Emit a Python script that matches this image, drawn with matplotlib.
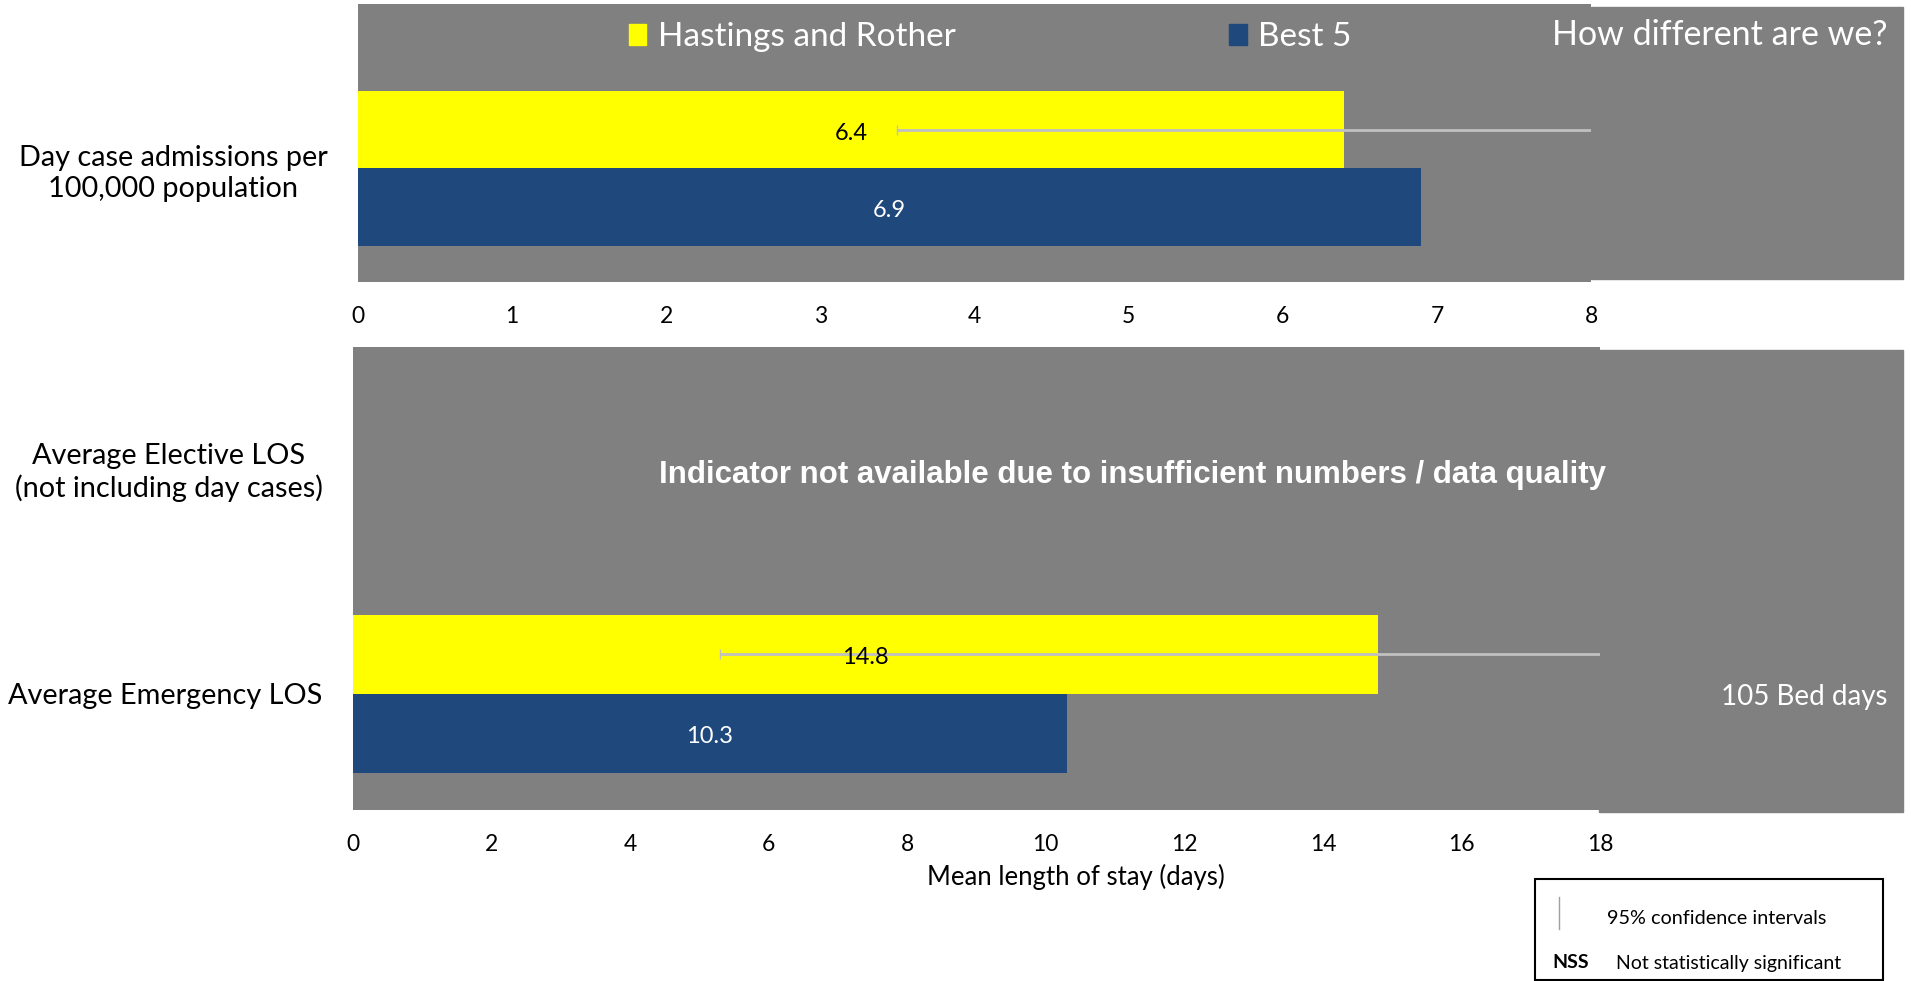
import numpy as np
import matplotlib
matplotlib.use("Agg")
import matplotlib.pyplot as plt
from matplotlib.patches import Rectangle, Patch

plt.rcParams['font.family'] = ['Lato', 'DejaVu Sans']

# data
categories = ["Day case admissions per\n100,000 population",
              "Average Elective LOS\n(not including day cases)",
              "Average Emergency LOS"]
hastings = [6.4, np.nan, 14.8]
best5 = [6.9, np.nan, 10.3]
ci_low = [3.5, np.nan, 5.3]
ci_high = [8.6, np.nan, 19.0]
bed_days = [None, None, "105 Bed days"]
series_names = ["Hastings and Rother", "Best 5"]

GRAY = "#808080"
YELLOW = "#FFFF00"
BLUE = "#1F497D"
W, H = 1911, 981

fig = plt.figure(figsize=(W / 100, H / 100), dpi=100)


def px_axes(x0, y0, x1, y1):
    return fig.add_axes([x0 / W, 1 - y1 / H, (x1 - x0) / W, (y1 - y0) / H])


# gray panels on the right ("How different are we?")
fig.add_artist(Rectangle((1591 / W, 1 - 279 / H), (1903 - 1591) / W, (279 - 7) / H,
                         transform=fig.transFigure, color=GRAY, zorder=0))
fig.add_artist(Rectangle((1599 / W, 1 - 812 / H), (1903 - 1599) / W, (812 - 350) / H,
                         transform=fig.transFigure, color=GRAY, zorder=0))

ax_top = px_axes(358, 4, 1591, 282)
ax_bot = px_axes(353, 347, 1600, 810)

panels = [
    (ax_top, [0], [0.5], (-0.97, 2.63), 8, 1),
    (ax_bot, [1, 2], [3.37, 0.5], (-0.97, 4.89), 18, 2),
]

for ax, idx, pos, ylim, xmax, step in panels:
    ax.set_facecolor(GRAY)
    for s in ax.spines.values():
        s.set_visible(False)
    ax.set_xlim(0, xmax)
    ax.set_ylim(*ylim)
    ax.set_xticks(np.arange(0, xmax + 1, step))
    ax.tick_params(axis='x', length=0, pad=17.5, labelsize=16.5)
    ax.set_yticks(pos)
    ax.set_yticklabels([categories[i] for i in idx], fontsize=20.8,
                       multialignment='center', linespacing=1.25)
    ax.tick_params(axis='y', length=0, pad=22)
    for i, p in zip(idx, pos):
        if np.isnan(hastings[i]):
            ax.annotate("Indicator not available due to insufficient numbers / data quality",
                        (xmax * 0.625, p), xytext=(0, -6), textcoords='offset points',
                        ha='center', va='center', color='white', fontsize=22.5,
                        fontweight='bold', family='Liberation Sans')
            continue
        ax.barh(p + 0.5, hastings[i], height=1, color=YELLOW, zorder=2)
        ax.barh(p - 0.5, best5[i], height=1, color=BLUE, zorder=2)
        ax.errorbar(hastings[i], p + 0.5,
                    xerr=[[hastings[i] - ci_low[i]], [ci_high[i] - hastings[i]]],
                    fmt='none', ecolor='#C0C0C0', elinewidth=2, capsize=3.5,
                    zorder=3)
        ax.annotate(f"{hastings[i]:.1f}", (hastings[i] / 2, p + 0.5), xytext=(0, -2.5),
                    textcoords='offset points', ha='center', va='center',
                    fontsize=17, color='black', zorder=4)
        ax.annotate(f"{best5[i]:.1f}", (best5[i] / 2, p - 0.5), xytext=(0, -2.5),
                    textcoords='offset points', ha='center', va='center',
                    fontsize=17, color='white', zorder=4)
        if bed_days[i]:
            fig.text(1804 / W, 1 - 697 / H, bed_days[i], ha='center', va='center',
                     color='white', fontsize=20)

ax_bot.set_xlabel("Mean length of stay (days)", fontsize=18.5)
ax_bot.xaxis.set_label_coords(0.58, -0.145)
ax_bot.xaxis.label.set_va('center')

# series legend
handles = [Patch(color=YELLOW), Patch(color=BLUE)]
leg = fig.legend(handles, series_names, loc='center left',
                 bbox_to_anchor=(629 / W, 1 - 37 / H), ncol=2, frameon=False,
                 fontsize=24, labelcolor='white', handlelength=0.52,
                 handleheight=0.6, handletextpad=0.35, columnspacing=8.2,
                 borderpad=0, borderaxespad=0)

fig.text(1720 / W, 1 - 35 / H, "How different are we?", ha='center', va='center',
         color='white', fontsize=24.5)

# key box for CI / NSS
fig.add_artist(Rectangle((1535 / W, 1 - 980 / H), (1883 - 1535) / W, (980 - 879) / H,
                         transform=fig.transFigure, facecolor='white',
                         edgecolor='black', lw=1.5, zorder=1))
fig.add_artist(plt.Line2D([1559 / W, 1559 / W], [1 - 929 / H, 1 - 897 / H],
                          transform=fig.transFigure, color='#A0A0A0', lw=1, zorder=2))
fig.text(1607 / W, 1 - 918 / H, "95% confidence intervals", va='center',
         fontsize=14.3, zorder=3)
fig.text(1552 / W, 1 - 963 / H, "NSS", va='center', fontsize=14,
         fontweight='bold', zorder=3)
fig.text(1616 / W, 1 - 963 / H, "Not statistically significant", va='center',
         fontsize=14, zorder=3)

fig.savefig("out.png", dpi=100)
